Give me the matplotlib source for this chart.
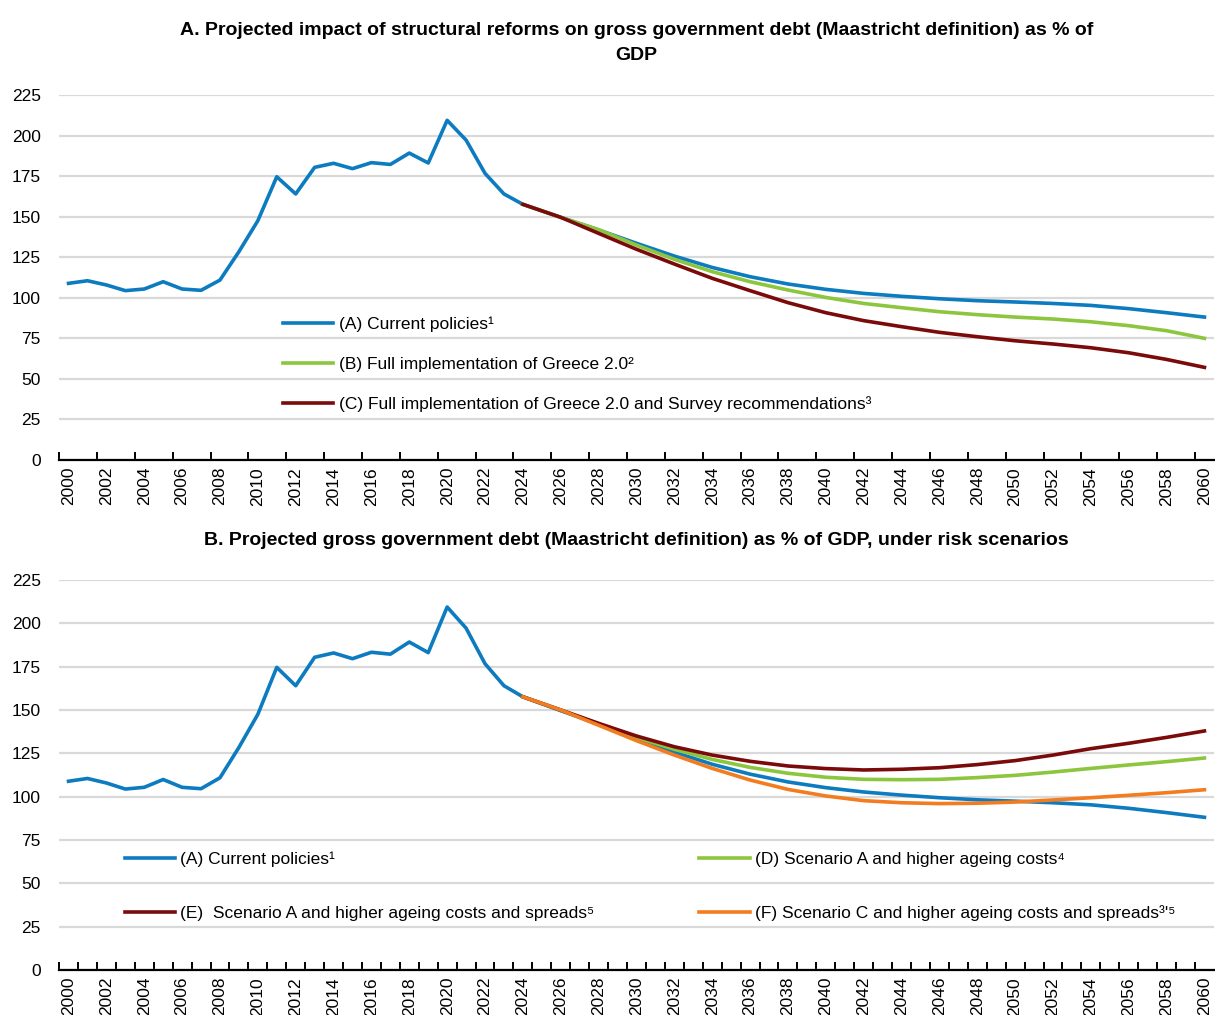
import numpy as np
import matplotlib.pyplot as plt

plt.rcParams['font.family'] = ['Liberation Sans Narrow', 'Liberation Sans', 'DejaVu Sans']

# historical gross debt, % of GDP
hist_years = list(range(2000, 2025))
hist_debt = [108.9, 110.5, 107.9, 104.4, 105.4, 109.9, 105.4, 104.6, 110.9, 128.4,
             147.5, 174.6, 164.0, 180.4, 182.9, 179.6, 183.3, 182.2, 189.2, 183.1,
             209.4, 197.2, 176.7, 164.0, 157.6]

# projections (read every second year)
proj_years = list(range(2024, 2061, 2))
current_proj = [157.6, 149.6, 141.8, 133.6, 125.7, 118.7, 113.0, 108.5, 105.2, 102.7,
                100.9, 99.4, 98.2, 97.4, 96.5, 95.3, 93.3, 90.8, 88.1]
greece20 = [157.6, 149.6, 142.0, 132.5, 123.7, 116.1, 109.9, 104.8, 100.2, 96.5,
            93.9, 91.4, 89.6, 88.1, 86.9, 85.2, 82.8, 79.7, 75.0]
greece20_survey = [157.6, 149.6, 139.7, 129.9, 120.8, 112.0, 104.4, 97.0, 90.8, 85.9,
                   82.2, 78.7, 76.0, 73.5, 71.5, 69.2, 66.1, 62.0, 57.1]
scen_d = [157.6, 150.0, 141.9, 134.2, 127.3, 121.5, 116.9, 113.5, 111.2, 110.0,
          109.8, 110.0, 111.0, 112.3, 114.2, 116.3, 118.3, 120.2, 122.3]
scen_e = [157.6, 150.0, 142.3, 135.0, 128.8, 124.0, 120.4, 117.7, 116.2, 115.4,
          115.8, 116.7, 118.5, 120.8, 124.0, 127.7, 130.8, 134.2, 137.9]
scen_f = [157.6, 150.0, 141.2, 132.3, 124.0, 116.3, 109.6, 104.2, 100.4, 97.7,
          96.5, 96.0, 96.2, 96.9, 98.1, 99.4, 100.8, 102.3, 104.0]

years_a = hist_years + proj_years[1:]
debt_a = hist_debt + current_proj[1:]

label_years = list(range(2000, 2061, 2))
yticks = [0, 25, 50, 75, 100, 125, 150, 175, 200, 225]

blue = '#0C7BC0'
green = '#8CC63F'
red = '#7B0A0A'
orange = '#F47C20'

title_a = ('A. Projected impact of structural reforms on gross government debt '
           '(Maastricht definition) as % of\nGDP')
title_b = ('B. Projected gross government debt (Maastricht definition) as % of GDP, '
           'under risk scenarios')

fig = plt.figure(figsize=(12.15, 10.15), dpi=100)
ax1 = fig.add_axes([0.0486, 0.5468, 0.9505, 0.3596])
ax2 = fig.add_axes([0.0486, 0.0443, 0.9505, 0.3843])

def style(ax, tick_step):
    ax.set_xlim(1999.5, 2060.5)
    ax.set_ylim(0, 225)
    ax.set_yticks(yticks)
    ax.grid(axis='y', color='#D9D9D9', lw=1.6, zorder=0)
    ax.set_axisbelow(True)
    for s in ['left', 'right', 'top']:
        ax.spines[s].set_visible(False)
    ax.spines['bottom'].set_linewidth(1.6)
    ax.spines['bottom'].set_zorder(5)
    ax.tick_params(axis='y', length=0, pad=13, labelsize=12.5)
    ax.set_xticks(np.arange(1999.5, 2060, tick_step))
    ax.set_xticklabels([])
    ax.tick_params(axis='x', which='major', direction='in', length=6, width=1.4)
    ax.set_xticks(label_years, [str(y) for y in label_years], minor=True)
    ax.tick_params(axis='x', which='minor', length=0, pad=5, labelsize=12.5,
                   labelrotation=90)

style(ax1, 2)
ax1.plot(years_a, debt_a, color=blue, lw=2.6, label='(A) Current policies\u00b9')
ax1.plot(proj_years, greece20, color=green, lw=2.6,
         label='(B) Full implementation of Greece 2.0\u00b2')
ax1.plot(proj_years, greece20_survey, color=red, lw=2.6,
         label='(C) Full implementation of Greece 2.0 and Survey recommendations\u00b3')
ax1.legend(loc='upper left', bbox_to_anchor=(0.194, 0.392), frameon=False,
           fontsize=12.5, handlelength=2.9, handletextpad=0.3, labelspacing=1.4,
           borderpad=0, borderaxespad=0)
ax1.set_title(title_a, fontsize=14, fontweight='bold', pad=25, linespacing=1.65)

style(ax2, 1)
la, = ax2.plot(years_a, debt_a, color=blue, lw=2.6, label='(A) Current policies\u00b9')
ld, = ax2.plot(proj_years, scen_d, color=green, lw=2.6,
               label='(D) Scenario A and higher ageing costs\u2074')
le, = ax2.plot(proj_years, scen_e, color=red, lw=2.6,
               label='(E)  Scenario A and higher ageing costs and spreads\u2075')
lf, = ax2.plot(proj_years, scen_f, color=orange, lw=2.6,
               label="(F) Scenario C and higher ageing costs and spreads\u00b3'\u2075")
leg_kw = dict(loc='upper left', frameon=False, fontsize=12.5, handlelength=2.9,
              handletextpad=0.3, labelspacing=2.2, borderpad=0, borderaxespad=0)
leg1 = ax2.legend(handles=[la, le], bbox_to_anchor=(0.057, 0.303), **leg_kw)
ax2.add_artist(leg1)
ax2.legend(handles=[ld, lf], bbox_to_anchor=(0.5545, 0.303), **leg_kw)
ax2.set_title(title_b, fontsize=14, fontweight='bold', pad=25)

fig.savefig('out.png', dpi=100)
